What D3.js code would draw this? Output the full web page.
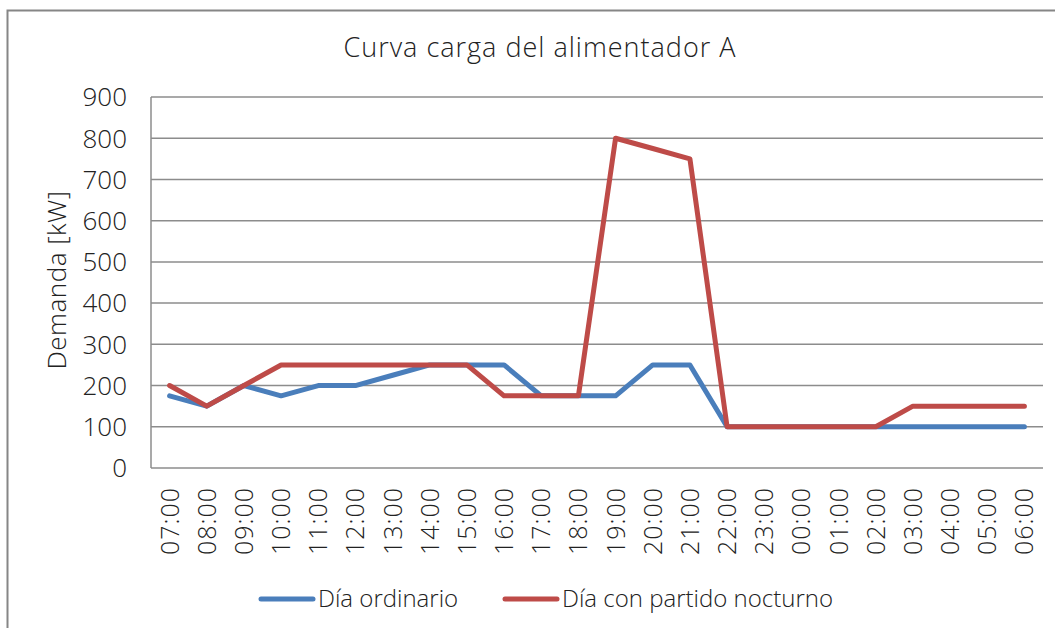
<!DOCTYPE html>
<html>
<head>
<meta charset="utf-8">
<script src="https://cdn.jsdelivr.net/npm/d3@7"></script>
<style>
  body { margin: 0; background: #fff; }
  text { font-family: "Open Sans", sans-serif; font-weight: 300; fill: #222; }
</style>
</head>
<body>
<script>
// Chart data
const hours = ["07:00","08:00","09:00","10:00","11:00","12:00","13:00","14:00","15:00","16:00","17:00","18:00",
               "19:00","20:00","21:00","22:00","23:00","00:00","01:00","02:00","03:00","04:00","05:00","06:00"];
const ordinario = [175,150,200,175,200,200,225,250,250,250,175,175,175,250,250,100,100,100,100,100,100,100,100,100];
const partido   = [200,150,200,250,250,250,250,250,250,175,175,175,800,775,750,100,100,100,100,100,150,150,150,150];
const yTicks = [0,100,200,300,400,500,600,700,800,900];

const series = [
  { name: "Día ordinario", values: ordinario, color: "#4A7EBB" },
  { name: "Día con partido nocturno", values: partido, color: "#BE4B48" }
];

var width = 1055, height = 628;
var plotLeft = 151, plotRight = 1043, plotTop = 97, plotBottom = 468;

var svg = d3.select('body').append('svg')
    .attr('width', width)
    .attr('height', height);

// outer chart border
svg.append('rect')
    .attr('x', 7.5).attr('y', 10.5)
    .attr('width', 1060).attr('height', 640)
    .attr('fill', 'none')
    .attr('stroke', '#868686')
    .attr('stroke-width', 2);

var x = d3.scalePoint()
    .domain(hours)
    .range([plotLeft, plotRight])
    .padding(0.5);

var y = d3.scaleLinear()
    .domain([0, 900])
    .range([plotBottom, plotTop]);

// gridlines
svg.selectAll('.grid')
    .data(yTicks.filter(d => d > 0))
    .enter()
    .append('line')
    .attr('class', 'grid')
    .attr('x1', plotLeft).attr('x2', plotRight)
    .attr('y1', d => y(d)).attr('y2', d => y(d))
    .attr('stroke', '#8c8c8c')
    .attr('stroke-width', 1.5);

// axes lines
svg.append('line')
    .attr('x1', plotLeft).attr('x2', plotRight)
    .attr('y1', plotBottom).attr('y2', plotBottom)
    .attr('stroke', '#8c8c8c').attr('stroke-width', 1.5);
svg.append('line')
    .attr('x1', plotLeft).attr('x2', plotLeft)
    .attr('y1', plotTop).attr('y2', plotBottom)
    .attr('stroke', '#8c8c8c').attr('stroke-width', 1.5);

// y tick labels
svg.selectAll('.ylab')
    .data(yTicks)
    .enter()
    .append('text')
    .attr('class', 'ylab')
    .attr('x', 127)
    .attr('y', d => y(d))
    .attr('dy', '0.36em')
    .attr('text-anchor', 'end')
    .attr('font-size', 26)
    .text(d => d);

// x tick labels (rotated)
svg.selectAll('.xlab')
    .data(hours)
    .enter()
    .append('text')
    .attr('class', 'xlab')
    .attr('transform', d => 'translate(' + (x(d) + 9) + ',' + 487 + ') rotate(-90)')
    .attr('text-anchor', 'end')
    .attr('font-size', 25)
    .attr('letter-spacing', 1)
    .text(d => d);

// title
svg.append('text')
    .attr('x', 540).attr('y', 57)
    .attr('text-anchor', 'middle')
    .attr('font-size', 27)
    .attr('letter-spacing', 1)
    .text('Curva carga del alimentador A');

// y axis label
svg.append('text')
    .attr('transform', 'translate(66,280) rotate(-90)')
    .attr('text-anchor', 'middle')
    .attr('font-size', 26)
    .attr('letter-spacing', 0.5)
    .text('Demanda [kW]');

// lines
var line = d3.line()
    .x((d, i) => x(hours[i]))
    .y(d => y(d));

svg.selectAll('.series')
    .data(series)
    .enter()
    .append('path')
    .attr('class', 'series')
    .attr('d', d => line(d.values))
    .attr('fill', 'none')
    .attr('stroke', d => d.color)
    .attr('stroke-width', 5)
    .attr('stroke-linejoin', 'round')
    .attr('stroke-linecap', 'round');

// legend
var legendX = [261, 505];
var legend = svg.selectAll('.legend')
    .data(series)
    .enter()
    .append('g')
    .attr('class', 'legend')
    .attr('transform', (d, i) => 'translate(' + legendX[i] + ',599)');

legend.append('line')
    .attr('x1', 0).attr('x2', 52)
    .attr('stroke', d => d.color)
    .attr('stroke-width', 5)
    .attr('stroke-linecap', 'round');

legend.append('text')
    .attr('x', 57)
    .attr('dy', '0.35em')
    .attr('font-size', 24)
    .text(d => d.name);
</script>
</body>
</html>
